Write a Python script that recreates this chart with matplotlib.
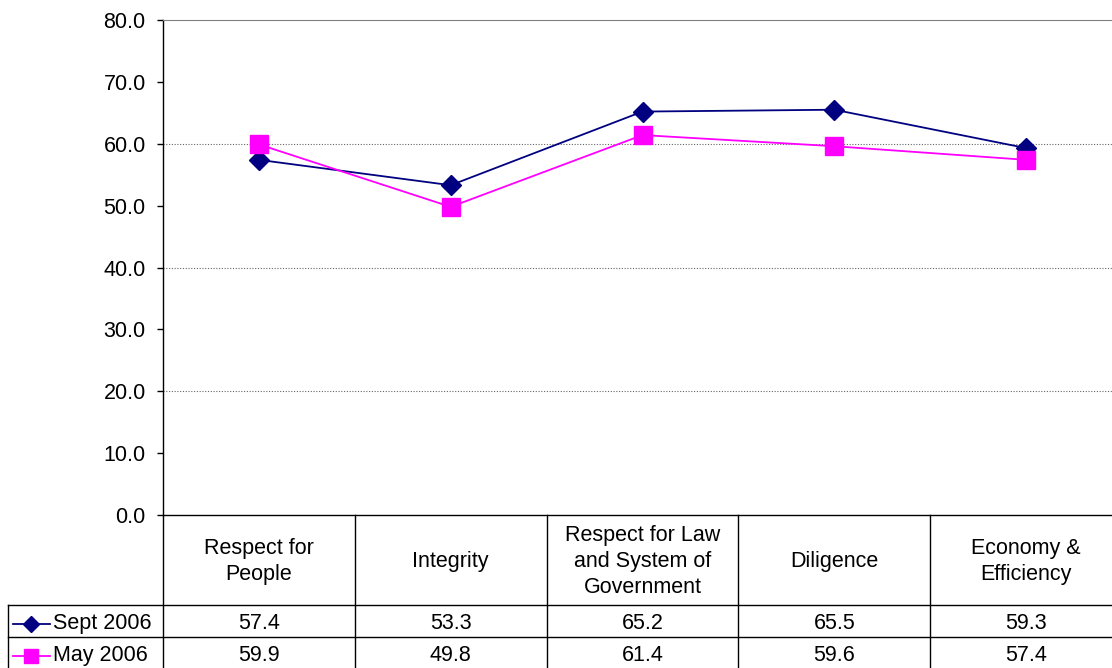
import numpy as np
import matplotlib.pyplot as plt

plt.rcParams['font.family'] = ['Liberation Sans', 'DejaVu Sans']

categories = ['Respect for\nPeople', 'Integrity',
              'Respect for Law\nand System of\nGovernment',
              'Diligence', 'Economy &\nEfficiency']
sept_2006 = [57.4, 53.3, 65.2, 65.5, 59.3]
may_2006 = [59.9, 49.8, 61.4, 59.6, 57.4]
series_names = ['Sept 2006', 'May 2006']
y_ticks = np.arange(0, 81, 10)
grid_levels = [20, 40, 60]

W, H = 1112, 668
FS = 15.5
NAVY = '#000080'
MAGENTA = '#FF00FF'

fig = plt.figure(figsize=(W / 100, H / 100), dpi=100)

# main plot area: x 163..1122 px (runs past the right edge), y 20..515 px
left_px, right_px, top_px, bot_px = 163, 1122, 20, 515
ax = fig.add_axes([left_px / W, 1 - bot_px / H, (right_px - left_px) / W, (bot_px - top_px) / H])

x = np.arange(len(categories))
styles = [dict(color=NAVY, marker='D', markersize=10.5),
          dict(color=MAGENTA, marker='s', markersize=12.5)]
series = [sept_2006, may_2006]
for vals, st in zip(series, styles):
    ax.plot(x, vals, lw=1.3, clip_on=False, zorder=3, **st)

for g in grid_levels:
    ax.axhline(g, color='#666666', lw=0.8, ls=(0, (1, 1.5)), zorder=1)

ax.set_xlim(-0.5, len(categories) - 0.5)
ax.set_ylim(0, 80)
ax.set_yticks(y_ticks)
ax.set_yticklabels([f'{v:.1f}' for v in y_ticks], fontsize=FS)
ax.tick_params(axis='y', length=4.5, width=1, pad=8, direction='out')
ax.set_xticks([])
ax.spines['right'].set_visible(False)
ax.spines['top'].set_color('#808080')
ax.spines['left'].set_linewidth(1)
ax.spines['bottom'].set_linewidth(1)

# data table below the plot, same category units on x, pixel rows on y
tab = fig.add_axes([left_px / W, 0, (right_px - left_px) / W, (H - bot_px) / H])
tab.set_xlim(-0.5, len(categories) - 0.5)
tab.set_ylim(H - bot_px, 0)
tab.axis('off')

col_w = (right_px - left_px) / len(categories)
def px2cat(px):
    return (px - left_px) / col_w - 0.5

header_h, row_h = 90, 32
legend_left = px2cat(8)
kw = dict(color='black', lw=1, clip_on=False)
for i in range(len(categories) + 1):
    tab.plot([i - 0.5, i - 0.5], [0, H - bot_px], **kw)
tab.plot([legend_left, legend_left], [header_h, H - bot_px], **kw)
for r in range(2):
    yy = header_h + r * row_h
    tab.plot([legend_left, len(categories) - 0.5], [yy, yy], **kw)

for i, c in enumerate(categories):
    tab.text(i, header_h / 2 + 1.5, c, ha='center', va='center', fontsize=FS, linespacing=1.3)

leg_styles = [dict(color=NAVY, marker='D', markersize=8),
              dict(color=MAGENTA, marker='s', markersize=10)]
for r, (name, vals, st) in enumerate(zip(series_names, series, leg_styles)):
    yc = header_h + (r + 0.5) * row_h + 2.5
    tab.plot([px2cat(13), px2cat(50)], [yc, yc], lw=1.3, color=st['color'], clip_on=False)
    tab.plot([px2cat(31.5)], [yc], ls='none', clip_on=False, **st)
    tab.text(px2cat(53), yc, name, ha='left', va='center', fontsize=FS)
    for i, v in enumerate(vals):
        tab.text(i, yc, f'{v:.1f}', ha='center', va='center', fontsize=FS)

fig.savefig('out.png', dpi=100)
